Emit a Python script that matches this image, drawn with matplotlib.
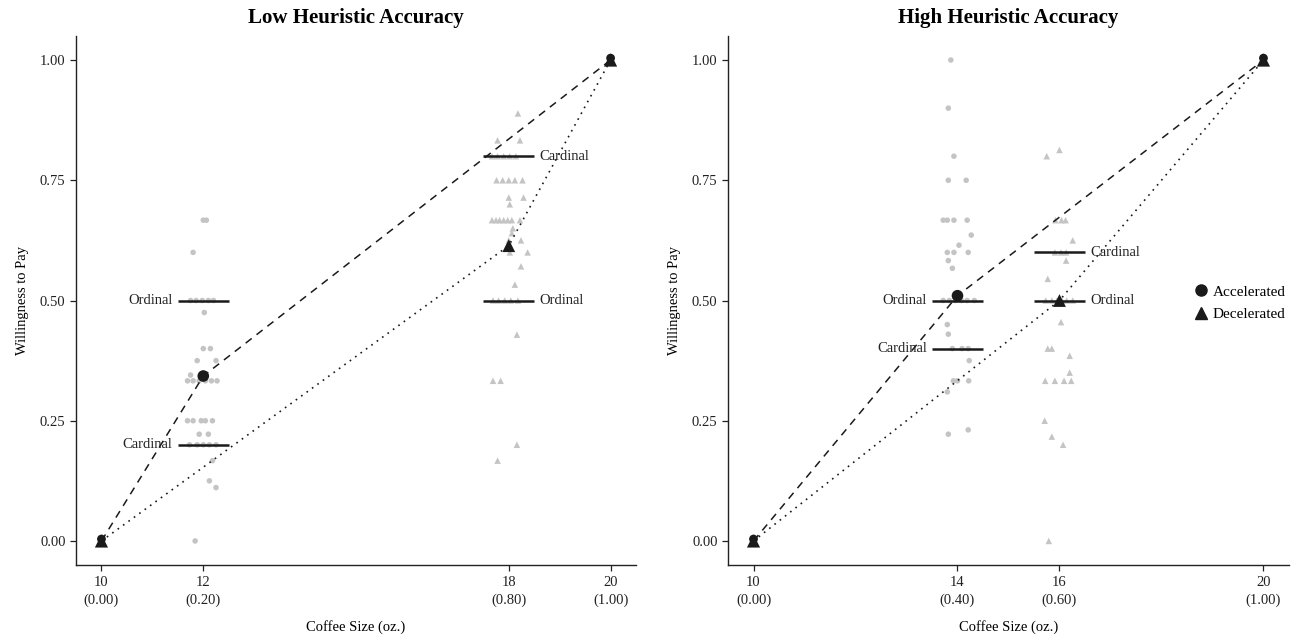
import matplotlib
matplotlib.use("Agg")
import matplotlib.pyplot as plt
from matplotlib.lines import Line2D

plt.rcParams['font.family'] = ['Liberation Serif', 'DejaVu Serif']

# ---------------- data ----------------
titles = ["Low Heuristic Accuracy", "High Heuristic Accuracy"]
xticks_low = [10, 12, 18, 20]
xticks_high = [10, 14, 16, 20]
xticklabels_low = ["10\n(0.00)", "12\n(0.20)", "18\n(0.80)", "20\n(1.00)"]
xticklabels_high = ["10\n(0.00)", "14\n(0.40)", "16\n(0.60)", "20\n(1.00)"]
yticks = [0.00, 0.25, 0.50, 0.75, 1.00]

# Low accuracy, accelerated (circles) at 12 oz
low_acc_x = [12.0, 12.06, 11.80, 11.75, 11.86, 11.98, 12.10, 12.20, 12.02, 12.0, 12.14,
             11.88, 12.25, 11.75, 11.69, 11.80, 11.92, 12.04, 12.16, 12.27,
             11.69, 11.80, 11.96, 12.04, 12.18, 11.92, 12.10,
             11.73, 11.88, 12.0, 12.12, 12.25, 12.18, 12.12, 12.25, 11.84]
low_acc_y = [0.667, 0.667, 0.60, 0.50, 0.50, 0.50, 0.50, 0.50, 0.475, 0.40, 0.40,
             0.375, 0.375, 0.345, 0.333, 0.333, 0.333, 0.333, 0.333, 0.333,
             0.25, 0.25, 0.25, 0.25, 0.25, 0.222, 0.222,
             0.20, 0.20, 0.20, 0.20, 0.20, 0.167, 0.125, 0.111, 0.0]

# Low accuracy, decelerated (triangles) at 18 oz
low_dec_x = [18.18, 17.78, 18.22, 17.67, 17.78, 17.90, 18.02, 18.14,
             17.76, 17.88, 18.00, 18.12, 18.27, 18.00, 18.29, 18.02,
             17.67, 17.75, 17.82, 17.90, 17.98, 18.06, 18.22,
             18.08, 18.06, 18.00, 18.24, 18.02, 18.37, 18.24, 18.12,
             17.69, 17.80, 17.92, 18.04, 18.18, 18.16, 17.69, 17.84, 18.16, 17.78]
low_dec_y = [0.889, 0.833, 0.833, 0.80, 0.80, 0.80, 0.80, 0.80,
             0.75, 0.75, 0.75, 0.75, 0.75, 0.714, 0.714, 0.70,
             0.667, 0.667, 0.667, 0.667, 0.667, 0.667, 0.667,
             0.65, 0.64, 0.625, 0.625, 0.60, 0.60, 0.571, 0.533,
             0.50, 0.50, 0.50, 0.50, 0.50, 0.429, 0.333, 0.333, 0.20, 0.167]

# High accuracy, accelerated (circles) at 14 oz
high_acc_x = [13.87, 13.82, 13.93, 13.82, 14.17, 13.72, 13.80, 13.93, 14.19,
              14.27, 14.03, 13.80, 13.93, 14.21, 13.82, 13.90,
              13.72, 13.84, 13.96, 14.08, 14.19, 14.33, 13.80, 13.82,
              13.90, 14.09, 14.21, 14.23, 13.92, 14.00, 14.22, 13.80, 13.82, 14.21]
high_acc_y = [1.0, 0.90, 0.80, 0.75, 0.75, 0.667, 0.667, 0.667, 0.667,
              0.636, 0.615, 0.60, 0.60, 0.60, 0.583, 0.567,
              0.50, 0.50, 0.50, 0.50, 0.50, 0.50, 0.45, 0.43,
              0.40, 0.40, 0.40, 0.375, 0.333, 0.333, 0.333, 0.31, 0.222, 0.231]

# High accuracy, decelerated (triangles) at 16 oz
high_dec_x = [16.0, 15.75, 15.92, 16.04, 16.12, 16.26, 15.91, 16.03, 16.13, 16.13,
              15.77, 15.73, 15.85, 15.95, 16.05, 16.14, 16.26, 16.03, 15.77, 15.85,
              16.20, 16.20, 15.72, 15.91, 16.09, 16.23, 15.71, 15.85, 16.07, 15.79]
high_dec_y = [0.813, 0.80, 0.667, 0.667, 0.667, 0.625, 0.60, 0.60, 0.60, 0.583,
              0.545, 0.50, 0.50, 0.50, 0.50, 0.50, 0.50, 0.455, 0.40, 0.40,
              0.385, 0.35, 0.333, 0.333, 0.333, 0.333, 0.25, 0.217, 0.20, 0.0]

# means and model reference lines
low_acc_mean = (12, 0.343)
low_dec_mean = (18, 0.614)
high_acc_mean = (14, 0.51)
high_dec_mean = (16, 0.50)
endpoints_x = [10, 20]
endpoints_y = [0.0, 1.0]

# model predictions (segments): (x, y, label, side)
low_models = [(12, 0.50, "Ordinal", "left"), (12, 0.20, "Cardinal", "left"),
              (18, 0.80, "Cardinal", "right"), (18, 0.50, "Ordinal", "right")]
high_models = [(14, 0.50, "Ordinal", "left"), (14, 0.40, "Cardinal", "left"),
               (16, 0.60, "Cardinal", "right"), (16, 0.50, "Ordinal", "right")]

# ---------------- plot ----------------
fig = plt.figure(figsize=(12.97, 6.37), dpi=100)
ax1 = fig.add_axes([0.0586, 0.113, 0.4318, 0.8305])
ax2 = fig.add_axes([0.5613, 0.113, 0.4325, 0.8305])

GRAY = "#c4c4c4"
DARK = "#1a1a1a"

panels = [
    (ax1, titles[0], xticks_low, xticklabels_low, low_acc_x, low_acc_y, low_dec_x, low_dec_y,
     low_acc_mean, low_dec_mean, low_models),
    (ax2, titles[1], xticks_high, xticklabels_high, high_acc_x, high_acc_y, high_dec_x, high_dec_y,
     high_acc_mean, high_dec_mean, high_models),
]

for (ax, title, xt, xtl, ax_x, ax_y, dx, dy, am, dm, models) in panels:
    ax.scatter(ax_x, ax_y, s=16, marker='o', color=GRAY, edgecolors='none', zorder=2)
    ax.scatter(dx, dy, s=22, marker='^', color=GRAY, edgecolors='none', zorder=2)
    # model lines
    ax.plot([endpoints_x[0], am[0], endpoints_x[1]], [endpoints_y[0], am[1], endpoints_y[1]],
            linestyle=(0, (5, 4)), color=DARK, lw=1.1, zorder=3)
    ax.plot([endpoints_x[0], dm[0], endpoints_x[1]], [endpoints_y[0], dm[1], endpoints_y[1]],
            linestyle=(0, (1, 3)), color=DARK, lw=1.2, zorder=3)
    for (mx, my, lab, side) in models:
        ax.plot([mx - 0.5, mx + 0.5], [my, my], color=DARK, lw=1.8, solid_capstyle='butt', zorder=4)
        if side == "left":
            ax.text(mx - 0.6, my, lab, ha='right', va='center', fontsize=10.5, color='#222222')
        else:
            ax.text(mx + 0.6, my, lab, ha='left', va='center', fontsize=10.5, color='#222222')
    ax.scatter(endpoints_x, endpoints_y, s=90, marker='^', color=DARK, edgecolors='none', zorder=5)
    ax.scatter(endpoints_x, [v + 0.004 for v in endpoints_y], s=40, marker='o', color=DARK,
               edgecolors='none', zorder=5)
    ax.scatter([am[0]], [am[1]], s=70, marker='o', color=DARK, edgecolors='none', zorder=5)
    ax.scatter([dm[0]], [dm[1]], s=85, marker='^', color=DARK, edgecolors='none', zorder=5)

    ax.set_xlim(9.5, 20.5)
    ax.set_ylim(-0.05, 1.05)
    ax.set_xticks(xt)
    ax.set_xticklabels(xtl, linespacing=1.45)
    ax.set_yticks(yticks)
    ax.set_yticklabels([f"{v:.2f}" for v in yticks])
    for sp in ['top', 'right']:
        ax.spines[sp].set_visible(False)
    for sp in ['left', 'bottom']:
        ax.spines[sp].set_color('#222222')
        ax.spines[sp].set_linewidth(1.0)
    ax.tick_params(direction='out', length=4, width=0.9, colors='#222222', labelsize=10.5,
                   labelcolor='#222222')
    ax.tick_params(axis='x', pad=4)
    ax.set_xlabel("Coffee Size (oz.)", fontsize=10.5, labelpad=9)
    ax.set_ylabel("Willingness to Pay", fontsize=10.5, labelpad=8)
    ax.set_title(title, fontsize=15, fontweight='bold', pad=9)

handles = [Line2D([], [], marker='o', linestyle='none', color=DARK, markersize=8, label='Accelerated'),
           Line2D([], [], marker='^', linestyle='none', color=DARK, markersize=9, label='Decelerated')]
ax2.legend(handles=handles, loc='center left', bbox_to_anchor=(0.803, 0.495), frameon=False,
           fontsize=11, handletextpad=0.15, labelspacing=0.6, handlelength=1.2)

fig.savefig("out.png", dpi=100)
